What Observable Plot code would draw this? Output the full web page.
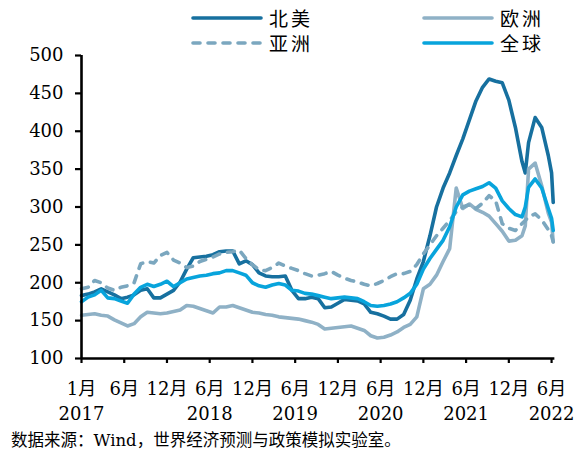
<!DOCTYPE html>
<html><head><meta charset="utf-8">
<script src="https://cdn.jsdelivr.net/npm/d3@7"></script>
<script src="https://cdn.jsdelivr.net/npm/@observablehq/plot@0.6"></script>
<style>
body{margin:0;background:#fff;}
#wrap{position:relative;width:576px;height:452px;overflow:hidden;font-family:"DejaVu Serif","Noto Sans CJK SC",serif;color:#000;background:#fff;}
#legend{position:absolute;left:0;top:0;width:576px;height:60px;z-index:2;}
.leg{position:absolute;height:26px;display:flex;align-items:center;white-space:nowrap;width:160px;}
.leg svg{flex:none;}
.leg span{font-family:"Noto Sans CJK SC",sans-serif;font-size:19px;letter-spacing:3px;margin-left:6px;line-height:26px;white-space:nowrap;}
#chart{position:absolute;left:0;top:20px;z-index:1;}
#caption{position:absolute;left:11px;top:430px;font-size:16.5px;font-family:"DejaVu Serif","Noto Sans CJK SC",serif;white-space:nowrap;line-height:22px;}
</style></head><body><div id="wrap">
<div id="chart"></div>
<div id="legend"></div>
<div id="caption">数据来源：Wind，世界经济预测与政策模拟实验室。</div>
</div>
<script>
// weeks since the first week of January 2017
const weeks = [0,4,8,12,16,20,24,28,32,36,40,44,48,52,56,60,64,68,72,76,80,84,88,92,96,100,104,108,112,116,120,124,128,132,136,140,144,148,152,156,160,164,168,172,176,180,184,188,192,196,200,204,208,212,216,220,224,228,232,236,240,244,248,252,256,260,264,268,270,272,276,280,284,286,287];

const northAmerica = [183,185,188,192,188,184,179,181,184,190,192,180,180,185,190,201,218,233,234,235,237,241,242,242,225,229,224,213,209,208,208,209,190,179,179,181,179,167,168,173,178,177,176,172,161,159,156,152,152,158,177,205,228,262,300,325,345,368,390,415,440,458,469,466,464,441,405,360,345,385,418,405,368,345,306];
const europe = [157,158,159,157,156,151,147,143,146,155,161,160,159,160,162,164,170,169,166,163,160,168,168,170,167,164,161,160,158,157,155,154,153,152,150,148,145,139,140,141,142,143,140,137,130,127,128,131,135,141,145,155,192,198,210,228,245,325,298,304,297,293,288,278,268,255,256,262,275,350,358,328,292,280,254];
const asia = [192,194,203,200,193,190,194,196,200,225,228,226,236,240,230,226,220,222,228,231,234,238,240,241,243,232,224,217,216,220,226,222,219,216,212,209,210,212,215,210,206,203,201,198,196,199,203,208,212,212,215,224,238,250,262,272,282,294,300,303,298,305,315,308,278,272,269,278,282,287,291,283,270,262,254];
const world = [175,181,184,190,180,179,176,173,185,194,198,195,198,202,195,200,205,207,209,210,212,213,216,216,213,210,200,196,194,197,199,197,190,189,186,185,183,181,179,180,181,180,179,175,170,169,170,172,175,180,186,198,218,232,244,256,274,300,316,321,324,327,332,325,308,298,290,287,300,326,337,325,298,285,269];

const seriesNames = ["北美","欧洲","亚洲","全球"];
const seriesColors = ["#17709f","#8fb1c6","#7ba7bf","#08a4dc"];
const seriesDashed = [false,false,true,false];
const seriesValues = [northAmerica, europe, asia, world];

const tickWeeks = [0,26,52,78,104,130,156,182,208,234,260,286];
const monthLabels = ["1月","6月","12月","6月","12月","6月","12月","6月","12月","6月","12月","6月"];
const yearLabels = ["2017","","","2018","","2019","","2020","","2021","","2022"];
const yTicks = [100,150,200,250,300,350,400,450,500];

// legend
const legendPos = [[191,18],[422,18],[191,43],[422,43]];
const legend = document.getElementById("legend");
seriesNames.forEach((name,i)=>{
  const d = document.createElement("div");
  d.className = "leg";
  d.style.left = legendPos[i][0] + "px";
  d.style.top = (legendPos[i][1]-13) + "px";
  const dash = seriesDashed[i] ? 'stroke-dasharray="7,8"' : '';
  d.innerHTML = `<svg width="72" height="26"><line x1="2" x2="70" y1="13" y2="13" stroke="${seriesColors[i]}" stroke-width="3.6" stroke-linecap="round" ${dash}/></svg><span>${name}</span>`;
  legend.appendChild(d);
});

const rows = [];
seriesNames.forEach((name,s)=>{
  weeks.forEach((w,i)=>rows.push({series:name, w, v: seriesValues[s][i]}));
});
const tickRows = tickWeeks.map((w,i)=>({w, m: monthLabels[i], yr: yearLabels[i]}));

const marks = [];
seriesNames.forEach((name,s)=>{
  marks.push(Plot.line(rows.filter(r=>r.series===name), {
    x:"w", y:"v", stroke: seriesColors[s], strokeWidth: 3.6,
    strokeLinejoin:"round", strokeLinecap:"round",
    strokeDasharray: seriesDashed[s] ? "7,8" : null
  }));
});

const chart = Plot.plot({
  width: 576,
  height: 405,
  marginLeft: 81,
  marginRight: 20,
  marginTop: 35,
  marginBottom: 67,
  style: {fontFamily: '"DejaVu Serif","Noto Sans CJK SC",serif', fontSize: "18px", background: "transparent", color: "#000", overflow: "visible"},
  x: {domain: [0, 289], axis: null},
  y: {domain: [100, 500], axis: null},
  marks: [
    ...marks,
    Plot.axisY({ticks: yTicks, tickSize: 6, tickPadding: 12, strokeWidth: 2.2, tickFormat: d=>String(d), fontSize: 18, label: null}),
    Plot.ruleX([0], {y1: 100, y2: 500, stroke: "#000", strokeWidth: 2.6}),
    Plot.ruleY([100], {x1: 0, x2: 288, stroke: "#000", strokeWidth: 2.6}),
    Plot.axisX({ticks: tickWeeks, tickSize: 5, strokeWidth: 2.2, tickFormat: () => "", label: null}),
    Plot.text(tickRows, {x: "w", text: "m", frameAnchor: "bottom", dy: 31, lineAnchor: "middle", fontSize: 18}),
    Plot.text(tickRows, {x: "w", text: "yr", frameAnchor: "bottom", dy: 56, lineAnchor: "middle", fontSize: 18})
  ]
});
document.getElementById("chart").appendChild(chart);
</script>
</body></html>
